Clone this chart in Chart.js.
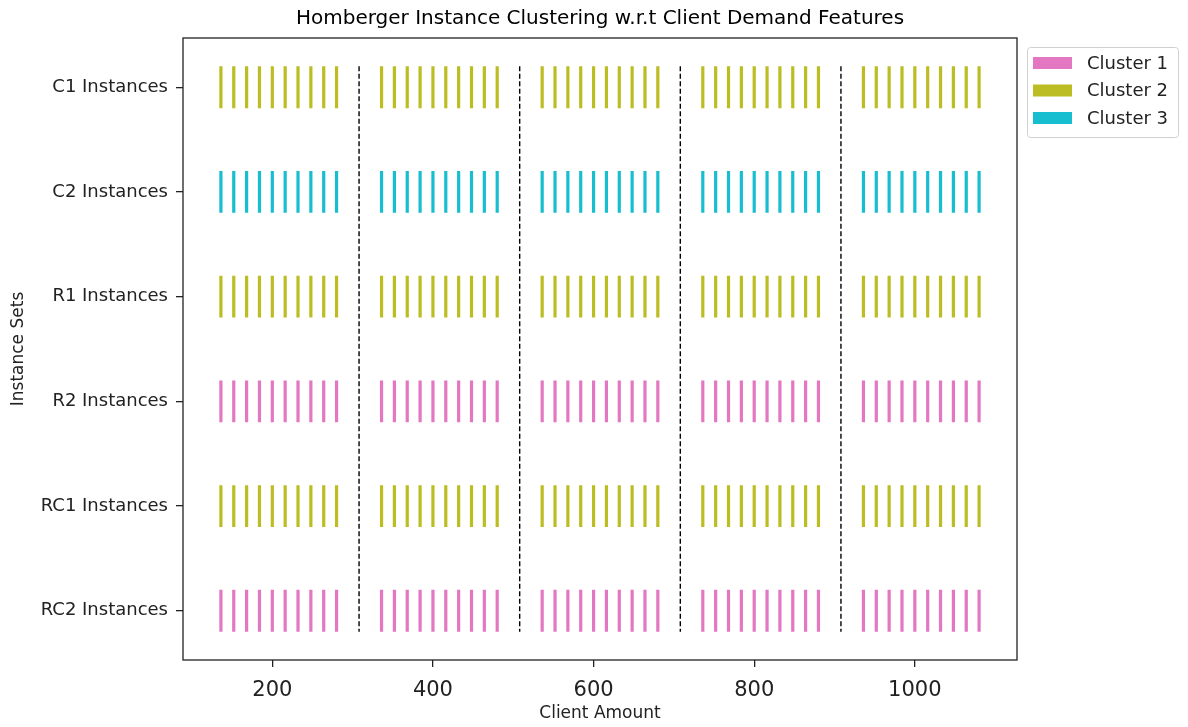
<!DOCTYPE html>
<html>
<head>
<meta charset="utf-8">
<script src="https://cdn.jsdelivr.net/npm/chart.js@4/dist/chart.umd.min.js"></script>
<style>
  body { margin: 0; background: #fff; }
  #wrap { width: 1188px; height: 727px; }
</style>
</head>
<body>
<div id="wrap"><canvas id="myChart" width="1188" height="727"></canvas></div>
<script>
// data
var instanceSets = ['C1 Instances', 'C2 Instances', 'R1 Instances', 'R2 Instances', 'RC1 Instances', 'RC2 Instances'];
var clientSizes = [200, 400, 600, 800, 1000];
// offset of the 10 instances in each size group, relative to the group size
var instanceOffsets = [-64, -48, -32, -16, 0, 16, 32, 48, 64, 80];
// cluster (1..3) of each instance set, same for all sizes
var setCluster = [2, 3, 2, 1, 2, 1];
var separators = [308, 508, 708, 908];
var clusterNames = ['Cluster 1', 'Cluster 2', 'Cluster 3'];
var clusterColors = ['#e377c2', '#bcbd22', '#17becf'];
var xTicks = [200, 400, 600, 800, 1000];

var halfBar = 0.2;

// build one line dataset per cluster, each bar is a 2-point segment
function clusterData(c) {
    var pts = [];
    for (var r = 0; r < instanceSets.length; r++) {
        if (setCluster[r] !== c) continue;
        clientSizes.forEach(function(n) {
            instanceOffsets.forEach(function(o) {
                pts.push({x: n + o, y: r - halfBar});
                pts.push({x: n + o, y: r + halfBar});
                pts.push({x: n + o, y: null});
            });
        });
    }
    return pts;
}

var datasets = clusterNames.map(function(name, i) {
    return {
        label: name,
        data: clusterData(i + 1),
        borderColor: clusterColors[i],
        backgroundColor: clusterColors[i],
        borderWidth: 3.2,
        borderCapStyle: 'butt',
        pointRadius: 0,
        spanGaps: false,
        tension: 0
    };
});

var sepPts = [];
separators.forEach(function(s) {
    sepPts.push({x: s, y: -halfBar});
    sepPts.push({x: s, y: instanceSets.length - 1 + halfBar});
    sepPts.push({x: s, y: null});
});
datasets.push({
    label: 'sep',
    data: sepPts,
    borderColor: '#000',
    borderWidth: 1.4,
    borderDash: [5, 2.5],
    pointRadius: 0,
    spanGaps: false
});

var extras = {
    id: 'extras',
    afterDraw: function(chart) {
        var ctx = chart.ctx;
        var a = chart.chartArea;
        ctx.save();
        // frame
        ctx.strokeStyle = '#222';
        ctx.lineWidth = 1.3;
        ctx.strokeRect(a.left, a.top, a.right - a.left, a.bottom - a.top);
        // title
        ctx.fillStyle = '#000';
        ctx.font = '20px "DejaVu Sans"';
        ctx.textAlign = 'center';
        ctx.textBaseline = 'middle';
        ctx.fillText('Homberger Instance Clustering w.r.t Client Demand Features', (a.left + a.right) / 2, 19);
        // legend
        var lx = 1027, ly = 47, lw = 151, lh = 90;
        ctx.fillStyle = 'rgba(255,255,255,0.8)';
        ctx.strokeStyle = '#d0d0d0';
        ctx.lineWidth = 1;
        ctx.beginPath();
        ctx.roundRect(lx + 0.5, ly + 0.5, lw, lh, 3);
        ctx.fill();
        ctx.stroke();
        ctx.font = '18px "DejaVu Sans"';
        ctx.textAlign = 'left';
        clusterNames.forEach(function(name, i) {
            var cy = 63 + i * 27.5;
            ctx.fillStyle = clusterColors[i];
            ctx.fillRect(1033, cy - 6, 39, 12);
            ctx.fillStyle = '#222';
            ctx.fillText(name, 1087, cy + 1);
        });
        ctx.restore();
    }
};

var ctx = document.getElementById('myChart').getContext('2d');
var chart = new Chart(ctx, {
    type: 'line',
    data: { datasets: datasets },
    options: {
        responsive: false,
        animation: false,
        layout: { padding: { top: 38, right: 1188 - 1017, left: 0, bottom: 0 } },
        plugins: {
            legend: { display: false },
            tooltip: { enabled: false }
        },
        scales: {
            x: {
                type: 'linear',
                min: 88.8,
                max: 1127.2,
                afterBuildTicks: function(s) { s.ticks = xTicks.map(function(v) { return {value: v}; }); },
                afterFit: function(s) { s.height = 727 - 660; },
                grid: { display: true, drawOnChartArea: false, drawTicks: true, tickLength: 7, color: '#222', lineWidth: 1.3 },
                border: { display: false },
                ticks: {
                    color: '#222',
                    font: { family: 'DejaVu Sans', size: 21 },
                    padding: 11,
                    maxRotation: 0,
                    callback: function(v) { return String(v); }
                },
                title: { display: true, text: 'Client Amount', color: '#222', font: { family: 'DejaVu Sans', size: 17 }, padding: { top: 0, bottom: 3 } }
            },
            y: {
                type: 'linear',
                reverse: true,
                min: -0.47,
                max: 5.47,
                afterBuildTicks: function(s) { s.ticks = instanceSets.map(function(v, i) { return {value: i}; }); },
                afterFit: function(s) { s.width = 183; },
                grid: { display: true, drawOnChartArea: false, drawTicks: true, tickLength: 7, color: '#222', lineWidth: 1.3 },
                border: { display: false },
                ticks: {
                    color: '#222',
                    font: { family: 'DejaVu Sans', size: 18 },
                    padding: 8,
                    callback: function(v) { return instanceSets[v]; }
                },
                title: { display: true, text: 'Instance Sets', color: '#222', font: { family: 'DejaVu Sans', size: 17 }, padding: { top: 8, bottom: 0 } }
            }
        }
    },
    plugins: [extras]
});
</script>
</body>
</html>
